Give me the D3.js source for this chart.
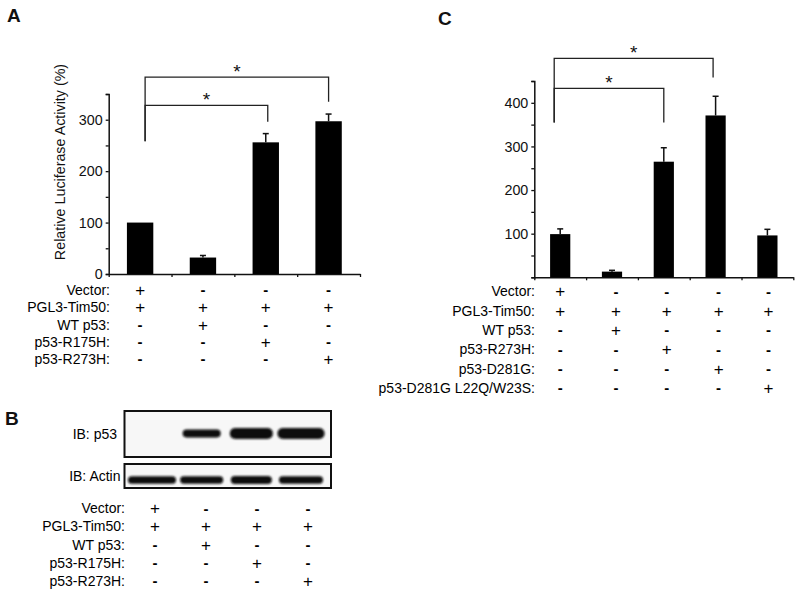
<!DOCTYPE html>
<html><head><meta charset="utf-8">
<script src="https://cdn.jsdelivr.net/npm/d3@7"></script>
<style>
html,body{margin:0;padding:0;background:#fff;}
svg{display:block;font-family:"Liberation Sans",Arial,Helvetica,sans-serif;}
</style></head>
<body>
<svg id="chart" width="800" height="594"></svg>
<script>
// ---------- DATA ----------
// Panel A
const groupsA = ["c1", "c2", "c3", "c4"];
const valuesA = [100, 32, 256, 297];
const errorsA = [0, 4, 17, 14];
const yTicksA = [0, 50, 100, 150, 200, 250, 300, 350];
const yLabelsA = [0, 100, 200, 300];
const rowLabelsA = ["Vector:", "PGL3-Tim50:", "WT p53:", "p53-R175H:", "p53-R273H:"];
const signsA = [
  ["+", "-", "-", "-"],
  ["+", "+", "+", "+"],
  ["-", "+", "-", "-"],
  ["-", "-", "+", "-"],
  ["-", "-", "-", "+"]
];
const sigA = [
  { from: 0, to: 2, level: 328, leftEnd: 258, rightEnd: 296 },
  { from: 0, to: 3, level: 383, leftEnd: 258, rightEnd: 335 }
];
// Panel B (western blot, relative band intensity)
const lanesB = ["l1", "l2", "l3", "l4"];
const p53Band = [0, 0.6, 1, 1];
const actinBand = [0.9, 0.8, 1, 0.85];
const blotLabels = ["IB: p53", "IB: Actin"];
const rowLabelsB = ["Vector:", "PGL3-Tim50:", "WT p53:", "p53-R175H:", "p53-R273H:"];
const signsB = signsA;
// Panel C
const groupsC = ["c1", "c2", "c3", "c4", "c5"];
const valuesC = [99, 13, 265, 371, 96];
const errorsC = [12, 3, 32, 44, 14];
const yTicksC = [0, 50, 100, 150, 200, 250, 300, 350, 400, 450];
const yLabelsC = [100, 200, 300, 400];
const rowLabelsC = ["Vector:", "PGL3-Tim50:", "WT p53:", "p53-R273H:", "p53-D281G:", "p53-D281G L22Q/W23S:"];
const signsC = [
  ["+", "-", "-", "-", "-"],
  ["+", "+", "+", "+", "+"],
  ["-", "+", "-", "-", "-"],
  ["-", "-", "+", "-", "-"],
  ["-", "-", "-", "+", "-"],
  ["-", "-", "-", "-", "+"]
];
const sigC = [
  { from: 0, to: 2, level: 433, leftEnd: 355, rightEnd: 355 },
  { from: 0, to: 3, level: 502, leftEnd: 355, rightEnd: 458 }
];

// ---------- DRAW ----------
const svg = d3.select("#chart");
const TXT = "#000";

function panelLabel(t, x, y) {
  svg.append("text").attr("x", x).attr("y", y).text(t)
    .attr("font-size", 19).attr("font-weight", "bold").attr("fill", "#111");
}

function signText(sel, s) {
  sel.attr("text-anchor", "middle").attr("font-size", s === "+" ? 17 : 15)
    .attr("font-weight", s === "-" ? "bold" : "normal").attr("fill", TXT).text(s);
}

function barPanel(cfg) {
  const g = svg.append("g");
  const y = d3.scaleLinear().domain([0, cfg.yMax]).range([cfg.y0, cfg.yTop]);
  const xb = d3.scaleBand().domain(cfg.groups).range([cfg.x0, cfg.x1]).paddingInner(0).paddingOuter(0);
  const xl = d3.scaleLinear().domain([0, cfg.groups.length]).range([cfg.x0, cfg.x1]);
  const bw = xb.bandwidth() * cfg.barFrac;
  const cx = (i) => xb(cfg.groups[i]) + xb.bandwidth() / 2;

  // y axis
  const ya = d3.axisLeft(y).tickValues(cfg.yTicks).tickSize(3).tickPadding(3)
    .tickFormat(d => cfg.yLabels.includes(d) ? d : "");
  const yg = g.append("g").attr("transform", `translate(${cfg.x0},0)`).call(ya);
  yg.select(".domain").attr("stroke", "#111").attr("stroke-width", 1.5);
  yg.selectAll(".tick line").attr("stroke", "#111").attr("stroke-width", 1.3);
  yg.selectAll(".tick text").attr("font-size", 14.3).attr("fill", "#111")
    .attr("font-family", "'Liberation Sans',Arial,sans-serif");

  // x axis
  const xa = d3.axisBottom(xl).tickValues(d3.range(cfg.groups.length + 1)).tickSize(3).tickSizeOuter(0).tickFormat("");
  const xg = g.append("g").attr("transform", `translate(0,${cfg.y0})`).call(xa);
  xg.select(".domain").attr("stroke", "#111").attr("stroke-width", 1.5);
  xg.selectAll(".tick line").attr("stroke", "#111").attr("stroke-width", 1.3);

  // error bars
  cfg.values.forEach((v, i) => {
    if (cfg.errors[i] > 0) {
      const top = y(v + cfg.errors[i]);
      g.append("line").attr("x1", cx(i)).attr("x2", cx(i)).attr("y1", y(v)).attr("y2", top)
        .attr("stroke", "#111").attr("stroke-width", 1.5);
      g.append("line").attr("x1", cx(i) - 3).attr("x2", cx(i) + 3).attr("y1", top).attr("y2", top)
        .attr("stroke", "#111").attr("stroke-width", 1.5);
    }
  });
  // bars
  g.selectAll("rect.bar").data(cfg.values).enter().append("rect")
    .attr("x", (d, i) => cx(i) - bw / 2).attr("width", bw)
    .attr("y", d => y(d)).attr("height", d => cfg.y0 - y(d)).attr("fill", "#000");

  // significance brackets
  cfg.sig.forEach(s => {
    const xa1 = cx(s.from) + cfg.sigLeftOff, xa2 = cx(s.to) + cfg.sigRightOff[s.to];
    const yl = y(s.level);
    g.append("path")
      .attr("d", `M${xa1},${y(s.leftEnd)}V${yl}H${xa2}V${y(s.rightEnd)}`)
      .attr("fill", "none").attr("stroke", "#222").attr("stroke-width", 1.3);
    g.append("text").attr("x", (xa1 + xa2) / 2).attr("y", yl + 1).text("*")
      .attr("text-anchor", "middle").attr("font-size", 19).attr("fill", "#111");
  });

  // condition table
  const tg = g.append("g");
  cfg.rowLabels.forEach((lab, r) => {
    const yy = cfg.tableY0 + r * cfg.rowStep;
    tg.append("text").attr("x", cfg.labelX).attr("y", yy).attr("dy", "0.35em")
      .attr("text-anchor", "end").attr("font-size", 14).attr("fill", TXT).text(lab);
    cfg.signs[r].forEach((s, c) => {
      tg.append("text").attr("x", cx(c) + (cfg.colOff ? cfg.colOff[c] : 0)).attr("y", yy).attr("dy", "0.35em")
        .call(signText, s);
    });
  });
  return { y, xb };
}

// Panel A
panelLabel("A", 7, 22);
barPanel({
  groups: groupsA, values: valuesA, errors: errorsA, yMax: 350,
  yTicks: yTicksA, yLabels: yLabelsA,
  x0: 108.7, x1: 360, y0: 274, yTop: 94, barFrac: 0.42,
  sig: sigA, sigLeftOff: 5, sigRightOff: [0, 0, 2, 0],
  rowLabels: rowLabelsA, signs: signsA, tableY0: 290, rowStep: 17.3, labelX: 110
});
svg.append("text")
  .attr("transform", "translate(65,162) rotate(-90)")
  .attr("text-anchor", "middle").attr("font-size", 14.3).attr("fill", "#111")
  .text("Relative Luciferase Activity (%)");

// Panel C
panelLabel("C", 438, 25);
barPanel({
  groups: groupsC, values: valuesC, errors: errorsC, yMax: 450,
  yTicks: yTicksC, yLabels: yLabelsC,
  x0: 534.3, x1: 793.3, y0: 277.3, yTop: 81, barFrac: 0.39,
  sig: sigC, sigLeftOff: -6, sigRightOff: [0, 0, 0, -2.5, 0],
  rowLabels: rowLabelsC, signs: signsC, tableY0: 291.5, rowStep: 19.3, labelX: 535,
  colOff: [0, 4, 3, 3, 1]
});

// Panel B: western blot
panelLabel("B", 5, 425);
const defs = svg.append("defs");
defs.append("filter").attr("id", "blur").attr("x", "-20%").attr("y", "-50%").attr("width", "140%").attr("height", "200%")
  .append("feGaussianBlur").attr("stdDeviation", 0.9);

const lx = d3.scalePoint().domain(lanesB).range([152, 301]);
const boxes = [
  { label: blotLabels[0], top: 411, bottom: 457, bands: p53Band, cy: 433.5, widths: [38, 38, 43, 47] },
  { label: blotLabels[1], top: 464, bottom: 488, bands: actinBand, cy: 480, widths: [48, 43, 41, 44] }
];
boxes.forEach((b, bi) => {
  svg.append("rect").attr("x", 124.5).attr("y", b.top).attr("width", 206.5).attr("height", b.bottom - b.top)
    .attr("fill", "#f7f7f7").attr("stroke", "#111").attr("stroke-width", 2);
  const bg = svg.append("g").attr("filter", "url(#blur)");
  b.bands.forEach((v, i) => {
    if (v <= 0) return;
    const w = b.widths[i], h = (bi === 0 ? 3 + 8 * v : 5 + 3 * v);
    const cxp = lx(lanesB[i]);
    bg.append("rect").attr("x", cxp - w / 2).attr("y", b.cy - h / 2).attr("width", w).attr("height", h)
      .attr("rx", h / 2).attr("ry", h / 2.2).attr("fill", "#0a0a0a");
  });
  svg.append("text").attr("x", bi === 0 ? 117 : 120.5).attr("y", (b.top + b.bottom) / 2).attr("dy", "0.35em")
    .attr("text-anchor", "end").attr("font-size", 14).attr("fill", TXT).text(b.label);
});
const tx = d3.scalePoint().domain(lanesB).range([155, 308]);
rowLabelsB.forEach((lab, r) => {
  const yy = 508.3 + r * 18.2;
  svg.append("text").attr("x", 125).attr("y", yy).attr("dy", "0.35em")
    .attr("text-anchor", "end").attr("font-size", 14).attr("fill", TXT).text(lab);
  signsB[r].forEach((s, c) => {
    svg.append("text").attr("x", tx(lanesB[c])).attr("y", yy).attr("dy", "0.35em").call(signText, s);
  });
});
</script>
</body></html>
